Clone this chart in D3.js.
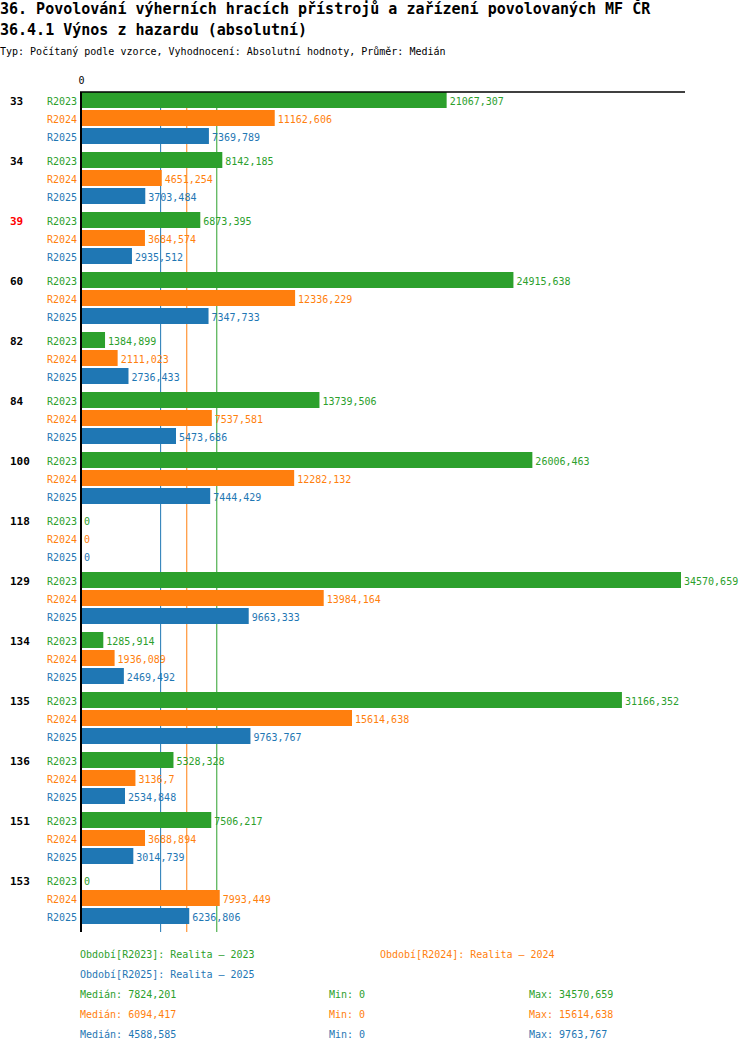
<!DOCTYPE html>
<html>
<head>
<meta charset="utf-8">
<script src="https://cdn.jsdelivr.net/npm/d3@7.9.0/dist/d3.min.js"></script>
<style>
  body { margin: 0; background: #fff; }
  svg text { font-family: "DejaVu Sans Mono", monospace; }
</style>
</head>
<body>
<div id="viz"></div>
<script>
// Data
const categories = ["33", "34", "39", "60", "82", "84", "100", "118", "129", "134", "135", "136", "151", "153"];
const highlighted = ["39"];
const periods = ["R2023", "R2024", "R2025"];
const periodNames = ["Realita – 2023", "Realita – 2024", "Realita – 2025"];
const r2023 = [21067.307, 8142.185, 6873.395, 24915.638, 1384.899, 13739.506, 26006.463, 0, 34570.659, 1285.914, 31166.352, 5328.328, 7506.217, 0];
const r2024 = [11162.606, 4651.254, 3684.574, 12336.229, 2111.023, 7537.581, 12282.132, 0, 13984.164, 1936.089, 15614.638, 3136.7, 3688.894, 7993.449];
const r2025 = [7369.789, 3703.484, 2935.512, 7347.733, 2736.433, 5473.686, 7444.429, 0, 9663.333, 2469.492, 9763.767, 2534.848, 3014.739, 6236.806];

const seriesValues = [r2023, r2024, r2025];
const colors = ["#2ca02c", "#ff7f0e", "#1f77b4"];

const title1 = "36. Povolování výherních hracích přístrojů a zařízení povolovaných MF ČR";
const title2 = "36.4.1 Výnos z hazardu (absolutní)";
const subtitle = "Typ: Počítaný podle vzorce, Vyhodnocení: Absolutní hodnoty, Průměr: Medián";

// number -> "1234,567"
const fmt = v => String(Math.floor(v * 1000 + 1e-6) / 1000).replace(".", ",");

// flat rows for the bars
const rows = [];
categories.forEach((c, ci) => {
  periods.forEach((p, pi) => {
    rows.push({cat: c, period: p, value: seriesValues[pi][ci], color: colors[pi]});
  });
});

const width = 750, height = 1052;
const plotTop = 92, plotBottom = 932, plotLeft = 81;

const svg = d3.select("#viz")
  .append("svg")
  .attr("width", width)
  .attr("height", height);

// titles
svg.append("text").attr("x", 0).attr("y", 14)
  .style("font-size", "15px").style("font-weight", "bold").text(title1);
svg.append("text").attr("x", 0).attr("y", 35)
  .style("font-size", "15px").style("font-weight", "bold").text(title2);
svg.append("text").attr("x", 0).attr("y", 55)
  .style("font-size", "10px").text(subtitle);

const x = d3.scaleLinear()
  .domain([0, d3.max(rows, d => d.value)])
  .range([plotLeft, 681]);

const y = d3.scaleBand()
  .domain(categories)
  .range([plotTop, plotBottom]);

const ySub = d3.scaleBand()
  .domain(periods)
  .range([0, 52])
  .paddingInner(1 / 9);

// median lines (behind the bars)
const stats = seriesValues.map((vals, i) => ({
  median: d3.median(vals),
  min: d3.min(vals),
  max: d3.max(vals),
  color: colors[i]
}));

svg.append("g")
  .selectAll("line")
  .data(stats)
  .join("line")
  .attr("x1", d => x(d.median))
  .attr("x2", d => x(d.median))
  .attr("y1", plotTop)
  .attr("y2", plotBottom)
  .attr("stroke", d => d.color)
  .attr("stroke-width", 1);

// bars
const barH = ySub.bandwidth();
svg.append("g")
  .selectAll("rect")
  .data(rows)
  .join("rect")
  .attr("x", x(0))
  .attr("y", d => y(d.cat) + ySub(d.period))
  .attr("width", d => x(d.value) - x(0))
  .attr("height", barH)
  .attr("fill", d => d.color);

// value labels
svg.append("g")
  .selectAll("text")
  .data(rows)
  .join("text")
  .attr("x", d => x(d.value) + 3)
  .attr("y", d => y(d.cat) + ySub(d.period) + barH / 2 + 4.5)
  .attr("fill", d => d.color)
  .style("font-size", "10px")
  .text(d => fmt(d.value));

// period labels
svg.append("g")
  .selectAll("text")
  .data(rows)
  .join("text")
  .attr("x", 77)
  .attr("y", d => y(d.cat) + ySub(d.period) + barH / 2 + 4.5)
  .attr("text-anchor", "end")
  .attr("fill", d => d.color)
  .style("font-size", "10px")
  .text(d => d.period);

// category labels
svg.append("g")
  .selectAll("text")
  .data(categories)
  .join("text")
  .attr("x", 10)
  .attr("y", d => y(d) + ySub(periods[0]) + barH / 2 + 4.5)
  .attr("fill", d => highlighted.includes(d) ? "#ff0000" : "#000")
  .style("font-size", "11px")
  .style("font-weight", "bold")
  .text(d => d);

// top axis with the single 0 tick
const xAxis = svg.append("g")
  .attr("transform", `translate(0,${plotTop})`)
  .call(d3.axisTop(x).tickValues([0]).tickSize(0).tickPadding(8).tickFormat(d3.format("d")));
xAxis.select(".domain")
  .attr("d", `M${x(0) - 1},0H${x.range()[1] + 4}`)
  .attr("stroke", "#000")
  .attr("stroke-width", 1.5);
xAxis.selectAll("text")
  .style("font-size", "10px")
  .style("font-family", "DejaVu Sans Mono, monospace")
  .attr("fill", "#000");

// left axis line
svg.append("line")
  .attr("x1", x(0)).attr("x2", x(0))
  .attr("y1", plotTop).attr("y2", plotBottom)
  .attr("stroke", "#000")
  .attr("stroke-width", 2);

// legend: period names, two per row
svg.append("g")
  .selectAll("text")
  .data(periods)
  .join("text")
  .attr("x", (d, i) => 80 + (i % 2) * 300)
  .attr("y", (d, i) => 958 + Math.floor(i / 2) * 20)
  .attr("fill", (d, i) => colors[i])
  .style("font-size", "10px")
  .text((d, i) => `Období[${d}]: ${periodNames[i]}`);

// legend: median / min / max per period
const statRows = svg.append("g")
  .selectAll("g")
  .data(stats)
  .join("g")
  .attr("transform", (d, i) => `translate(0,${998 + i * 20})`)
  .attr("fill", d => d.color)
  .style("font-size", "10px");

statRows.append("text").attr("x", 80).text(d => `Medián: ${fmt(d.median)}`);
statRows.append("text").attr("x", 329).text(d => `Min: ${fmt(d.min)}`);
statRows.append("text").attr("x", 529).text(d => `Max: ${fmt(d.max)}`);
</script>
</body>
</html>
